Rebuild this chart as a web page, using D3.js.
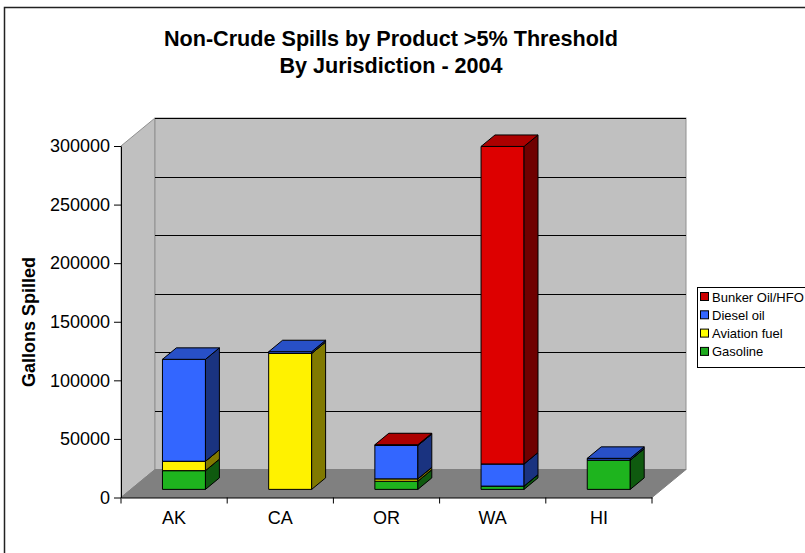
<!DOCTYPE html>
<html>
<head>
<meta charset="utf-8">
<script src="https://cdn.jsdelivr.net/npm/d3@7"></script>
<style>
  html, body { margin: 0; padding: 0; background: #fff; }
  svg { display: block; font-family: "Liberation Sans", Arial, sans-serif; }
</style>
</head>
<body>
<svg id="chart" width="805" height="553"></svg>
<script>
// Jurisdictions along the x axis
const jurisdictions = ["AK", "CA", "OR", "WA", "HI"];

// Products, stacked bottom to top
const products = ["Gasoline", "Aviation fuel", "Diesel oil", "Bunker Oil/HFO"];

// Gallons spilled per product, one value per jurisdiction
const gasoline     = [16000,      0,  7000,   2800, 25000];
const aviationFuel = [ 8000, 116000,  2000,      0,     0];
const dieselOil    = [87000,   1500, 28500,  18900,  1500];
const bunkerOil    = [    0,      0,   600, 271000,     0];

const yTicks = [0, 50000, 100000, 150000, 200000, 250000, 300000];

const seriesValues = [gasoline, aviationFuel, dieselOil, bunkerOil];
const colors = ["#1EB41E", "#FFF200", "#3366FF", "#DD0000"];
const legendColors = ["#1EAA1E", "#FFFF00", "#3366FF", "#CC0000"];

const FONT = "'Liberation Sans', Arial, sans-serif";
const svg = d3.select("#chart");

// Outer chart frame
svg.append("rect")
  .attr("x", 4.5).attr("y", 7.5).attr("width", 900).attr("height", 700)
  .attr("fill", "none").attr("stroke", "#222").attr("stroke-width", 1.5);

// Title
const title = svg.append("text")
  .attr("text-anchor", "middle").attr("font-weight", "bold")
  .attr("font-size", 21.6).attr("fill", "#000");
title.append("tspan").attr("x", 391).attr("y", 46).text("Non-Crude Spills by Product >5% Threshold");
title.append("tspan").attr("x", 391).attr("y", 73).text("By Jurisdiction - 2004");

// Plot geometry: front plane plus depth offset of the 3-D box
const plotLeft = 121, plotRight = 652, plotBottom = 497.5, plotTop = 146;
const depthX = 34, depthY = -28;

const x = d3.scaleBand().domain(jurisdictions).range([plotLeft, plotRight]);
const y = d3.scaleLinear().domain([0, 300000]).range([plotBottom, plotTop]);

// Left side wall
svg.append("path")
  .attr("d", `M${plotLeft},${plotTop} L${plotLeft + depthX},${plotTop + depthY} L${plotLeft + depthX},${plotBottom + depthY} L${plotLeft},${plotBottom} Z`)
  .attr("fill", "#C0C0C0").attr("stroke", "#909090").attr("stroke-width", 1);

// Back wall
svg.append("rect")
  .attr("x", plotLeft + depthX).attr("y", plotTop + depthY)
  .attr("width", plotRight - plotLeft).attr("height", plotBottom - plotTop)
  .attr("fill", "#C0C0C0").attr("stroke", "#909090").attr("stroke-width", 1);

// Floor
svg.append("path")
  .attr("d", `M${plotLeft},${plotBottom} L${plotLeft + depthX},${plotBottom + depthY} L${plotRight + depthX},${plotBottom + depthY} L${plotRight},${plotBottom} Z`)
  .attr("fill", "#808080").attr("stroke", "#808080").attr("stroke-width", 1);

// Gridlines on the back wall
svg.append("g").selectAll("line")
  .data(yTicks.filter(d => d > 0))
  .join("line")
  .attr("x1", plotLeft + depthX).attr("x2", plotRight + depthX)
  .attr("y1", d => Math.round(y(d) + depthY) + 0.5)
  .attr("y2", d => Math.round(y(d) + depthY) + 0.5)
  .attr("stroke", "#000").attr("stroke-width", 1);

// Stacked 3-D columns
const barW = 43;
const f1 = 0.29, fd = 0.41;           // bar front plane and thickness as fractions of depth
const ox = depthX * f1, oy = depthY * f1;
const bx = depthX * fd, by = depthY * fd;

function shade(c, k) {
  const col = d3.rgb(c);
  return d3.rgb(col.r * k, col.g * k, col.b * k).formatHex();
}

const barsG = svg.append("g");
jurisdictions.forEach((j, i) => {
  const x0 = x(j) + (x.bandwidth() - barW) / 2 + ox;
  let cum = 0;
  seriesValues.forEach((vals, s) => {
    const v = vals[i];
    if (v <= 0) return;
    const yb = y(cum) + oy;
    const yt = y(cum + v) + oy;
    cum += v;
    const g = barsG.append("g").attr("stroke", "#000").attr("stroke-width", 1).attr("stroke-linejoin", "round");
    // front face
    g.append("rect").attr("x", x0).attr("y", yt).attr("width", barW).attr("height", yb - yt)
      .attr("fill", colors[s]);
    // right side face
    g.append("path")
      .attr("d", `M${x0 + barW},${yb} L${x0 + barW + bx},${yb + by} L${x0 + barW + bx},${yt + by} L${x0 + barW},${yt} Z`)
      .attr("fill", shade(colors[s], 0.5));
    // top face
    g.append("path")
      .attr("d", `M${x0},${yt} L${x0 + bx},${yt + by} L${x0 + barW + bx},${yt + by} L${x0 + barW},${yt} Z`)
      .attr("fill", shade(colors[s], 0.78));
  });
});

// Value axis
const yAxis = svg.append("g")
  .attr("transform", `translate(${plotLeft},0)`)
  .call(d3.axisLeft(y).tickValues(yTicks).tickFormat(d3.format("d")).tickSize(7).tickPadding(4).tickSizeOuter(0));
yAxis.select(".domain").attr("stroke", "#000");
yAxis.selectAll(".tick line").attr("stroke", "#000");
yAxis.selectAll(".tick text").attr("font-size", 18).attr("fill", "#000")
  .attr("font-family", FONT);

// Category axis
const xAxis = svg.append("g")
  .attr("transform", `translate(0,${plotBottom})`)
  .call(d3.axisBottom(x).tickSize(0).tickPadding(14));
xAxis.select(".domain").attr("stroke", "#000");
xAxis.selectAll(".tick text").attr("font-size", 18).attr("fill", "#000")
  .attr("font-family", FONT);
// category separators
xAxis.append("g").selectAll("line")
  .data(d3.range(jurisdictions.length + 1))
  .join("line")
  .attr("x1", k => plotLeft + k * x.step()).attr("x2", k => plotLeft + k * x.step())
  .attr("y1", 0).attr("y2", 6)
  .attr("stroke", "#000");

// Axis title
svg.append("text")
  .attr("transform", "translate(35,322) rotate(-90)")
  .attr("text-anchor", "middle").attr("font-weight", "bold").attr("font-size", 18)
  .text("Gallons Spilled");

// Legend (top series first)
const legend = svg.append("g");
legend.append("rect")
  .attr("x", 697.5).attr("y", 287.5).attr("width", 140).attr("height", 80)
  .attr("fill", "#fff").attr("stroke", "#000").attr("stroke-width", 1);
const legendOrder = [3, 2, 1, 0];
legendOrder.forEach((s, k) => {
  const cy = 297 + k * 18.3;
  legend.append("rect")
    .attr("x", 700.5).attr("y", cy - 4.5).attr("width", 8).attr("height", 8)
    .attr("fill", legendColors[s]).attr("stroke", "#000").attr("stroke-width", 1);
  legend.append("text")
    .attr("x", 712).attr("y", cy + 4.5).attr("font-size", 13).attr("fill", "#000")
    .text(products[s]);
});
</script>
</body>
</html>
